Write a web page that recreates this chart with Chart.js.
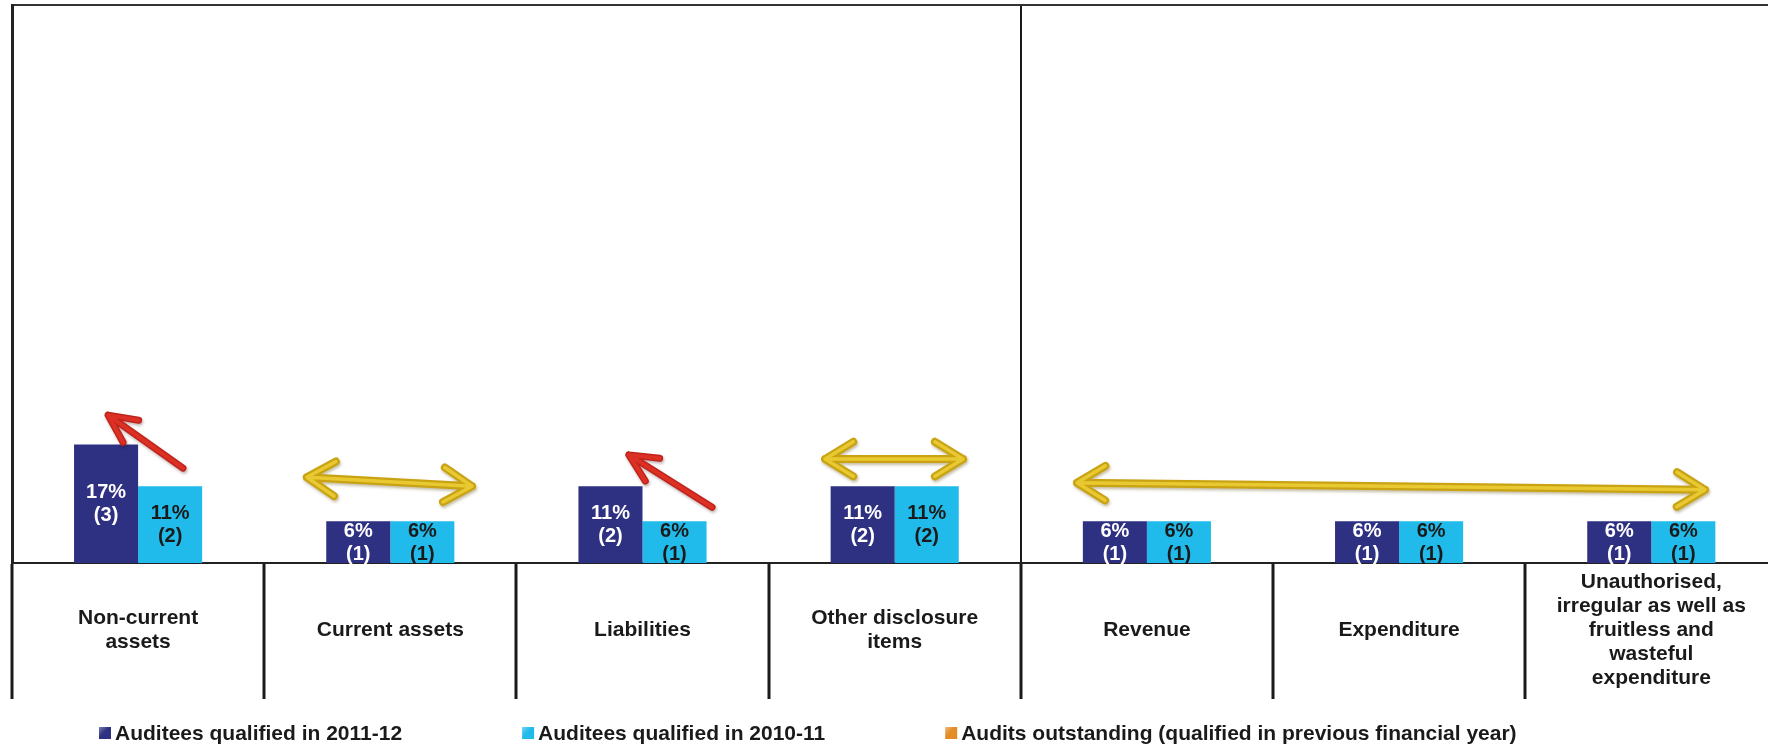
<!DOCTYPE html>
<html>
<head>
<meta charset="utf-8">
<script src="https://cdn.jsdelivr.net/npm/chart.js@4.4.1/dist/chart.umd.min.js"></script>
<style>
  html, body { margin: 0; padding: 0; background: #ffffff; overflow: hidden; }
  canvas { display: block; }
</style>
</head>
<body>
<canvas id="qualifications" width="1780" height="748"></canvas>
<script>
// Qualification areas (multi-line axis labels)
const categories = [
  ["Non-current", "assets"],
  ["Current assets"],
  ["Liabilities"],
  ["Other disclosure", "items"],
  ["Revenue"],
  ["Expenditure"],
  ["Unauthorised,", "irregular as well as", "fruitless and", "wasteful", "expenditure"]
];

const seriesNames = [
  "Auditees qualified in 2011-12",
  "Auditees qualified in 2010-11",
  "Audits outstanding (qualified in previous financial year)"
];

// Percentage of auditees and number of auditees per area
const pct2011_12   = [17, 6, 11, 11, 6, 6, 6];
const count2011_12 = [3, 1, 2, 2, 1, 1, 1];
const pct2010_11   = [11, 6, 6, 11, 6, 6, 6];
const count2010_11 = [2, 1, 1, 2, 1, 1, 1];
const pctOutstanding = [null, null, null, null, null, null, null];

// Areas before the divider are balance sheet items
const balanceSheetItems = 4;
const yMax = 80;

// Movement arrows, in category units (x) and percent (y)
const movementArrows = [
  { kind: "regressed", from: [0.178, 13.6], to: [-0.119, 21.2] },
  { kind: "regressed", from: [2.276, 8.0],  to: [1.946, 15.5] },
  { kind: "unchanged", from: [0.669, 12.3], to: [1.324, 11.0] },
  { kind: "unchanged", from: [2.724, 14.9], to: [3.271, 14.9] },
  { kind: "unchanged", from: [3.723, 11.5], to: [6.213, 10.5] }
];

const FONT = "'Liberation Sans', Arial, Helvetica, sans-serif";
const INK = "#1a1a1a";

// Percentage and count printed in the middle of each bar
const barValueLabels = {
  id: "barValueLabels",
  afterDatasetsDraw(chart) {
    const ctx = chart.ctx;
    ctx.save();
    ctx.font = "bold 20px " + FONT;
    ctx.textAlign = "center";
    ctx.textBaseline = "middle";
    chart.data.datasets.forEach((ds, i) => {
      if (!ds.counts) return;
      const meta = chart.getDatasetMeta(i);
      ctx.fillStyle = ds.labelColor;
      meta.data.forEach((bar, j) => {
        const v = ds.data[j];
        if (v === null || v === undefined) return;
        const p = bar.getProps(["x", "y", "base"], true);
        const cy = (p.y + p.base) / 2;
        ctx.fillText(v + "%", p.x, cy - 11);
        ctx.fillText("(" + ds.counts[j] + ")", p.x, cy + 12);
      });
    });
    ctx.restore();
  }
};

function arrowPath(ctx, x1, y1, x2, y2, both, headLen, headAngle) {
  const a = Math.atan2(y2 - y1, x2 - x1);
  const head = (tx, ty, ang) => {
    ctx.moveTo(tx - headLen * Math.cos(ang - headAngle), ty - headLen * Math.sin(ang - headAngle));
    ctx.lineTo(tx, ty);
    ctx.lineTo(tx - headLen * Math.cos(ang + headAngle), ty - headLen * Math.sin(ang + headAngle));
  };
  ctx.beginPath();
  ctx.moveTo(x1, y1);
  ctx.lineTo(x2, y2);
  head(x2, y2, a);
  if (both) head(x1, y1, a + Math.PI);
}

// Red arrows mark regression, gold double arrows mark no change
const movementArrowsPlugin = {
  id: "movementArrows",
  afterDatasetsDraw(chart) {
    const { ctx, scales } = chart;
    const xs = scales.x, ys = scales.y;
    ctx.save();
    ctx.lineCap = "round";
    ctx.lineJoin = "round";
    movementArrows.forEach(m => {
      const x1 = xs.getPixelForValue(m.from[0]);
      const y1 = ys.getPixelForValue(m.from[1]);
      const x2 = xs.getPixelForValue(m.to[0]);
      const y2 = ys.getPixelForValue(m.to[1]);
      if (m.kind === "regressed") {
        ctx.shadowColor = "rgba(60,0,0,0.30)";
        ctx.shadowBlur = 3;
        ctx.shadowOffsetX = 1;
        ctx.shadowOffsetY = 2;
        arrowPath(ctx, x1, y1, x2, y2, false, 31, 0.45);
        ctx.strokeStyle = "#BE241B";
        ctx.lineWidth = 7;
        ctx.stroke();
        ctx.shadowColor = "transparent";
        ctx.strokeStyle = "#DC3024";
        ctx.lineWidth = 4;
        ctx.stroke();
      } else {
        ctx.shadowColor = "rgba(90,70,0,0.35)";
        ctx.shadowBlur = 3;
        ctx.shadowOffsetX = 1;
        ctx.shadowOffsetY = 2;
        arrowPath(ctx, x1, y1, x2, y2, true, 33, 0.55);
        ctx.strokeStyle = "#C9A312";
        ctx.lineWidth = 8;
        ctx.stroke();
        ctx.shadowColor = "transparent";
        ctx.save();
        ctx.translate(0, -1.5);
        ctx.strokeStyle = "rgba(234,203,52,0.95)";
        ctx.lineWidth = 3.5;
        ctx.stroke();
        ctx.restore();
      }
    });
    ctx.restore();
  }
};

// Legend row under the axis labels
const legendRow = {
  id: "legendRow",
  afterDraw(chart) {
    const ctx = chart.ctx;
    const startX = 99, gap = 120, box = 12, textGap = 4, midY = 734;
    ctx.save();
    ctx.font = "bold 21px " + FONT;
    ctx.textAlign = "left";
    ctx.textBaseline = "middle";
    let x = startX;
    chart.data.datasets.forEach(ds => {
      const g = ctx.createLinearGradient(x, midY - box / 2, x + box, midY + box / 2);
      g.addColorStop(0, "rgba(255,255,255,0.35)");
      g.addColorStop(0.4, "rgba(255,255,255,0)");
      ctx.fillStyle = ds.backgroundColor;
      ctx.fillRect(x, midY - box / 2 - 1, box, box);
      ctx.fillStyle = g;
      ctx.fillRect(x, midY - box / 2 - 1, box, box);
      ctx.fillStyle = INK;
      const tx = x + box + textGap;
      ctx.fillText(ds.label, tx, midY);
      x = tx + ctx.measureText(ds.label).width + gap;
    });
    ctx.restore();
  }
};

new Chart(document.getElementById("qualifications"), {
  type: "bar",
  data: {
    labels: categories,
    datasets: [
      {
        label: seriesNames[0],
        data: pct2011_12,
        counts: count2011_12,
        labelColor: "#ffffff",
        backgroundColor: "#2E3082",
        borderWidth: 0
      },
      {
        label: seriesNames[1],
        data: pct2010_11,
        counts: count2010_11,
        labelColor: INK,
        backgroundColor: "#20BBEA",
        borderWidth: 0
      },
      {
        label: seriesNames[2],
        data: pctOutstanding,
        backgroundColor: "#E38B25",
        borderWidth: 0
      }
    ]
  },
  options: {
    responsive: false,
    maintainAspectRatio: false,
    devicePixelRatio: 1,
    animation: false,
    events: [],
    skipNull: true,
    barPercentage: 1.0,
    categoryPercentage: 0.508,
    layout: { padding: { top: 5, left: 12, right: 2.6, bottom: 44 } },
    scales: {
      x: {
        position: "bottom",
        offset: true,
        afterFit: s => { s.height = 141; },
        border: { display: true, color: "#222222", width: 2 },
        grid: {
          offset: true,
          drawOnChartArea: true,
          drawTicks: true,
          tickLength: 136,
          tickWidth: 3,
          tickColor: INK,
          lineWidth: 2,
          color: c => (c.index === balanceSheetItems ? INK : "rgba(0,0,0,0)")
        },
        ticks: {
          color: INK,
          font: { family: FONT, size: 21, weight: "bold", lineHeight: 1.143 },
          padding: -117,
          crossAlign: "center",
          maxRotation: 0,
          minRotation: 0,
          autoSkip: false
        }
      },
      xTop: {
        type: "category",
        position: "top",
        border: { display: true, color: "#333333", width: 2 },
        grid: { display: false, drawTicks: false },
        ticks: { display: false }
      },
      y: {
        min: 0,
        max: yMax,
        border: { display: true, color: "#222222", width: 3 },
        grid: { display: false, drawTicks: false },
        ticks: { display: false }
      }
    },
    plugins: {
      tooltip: { enabled: false },
      legend: { display: false }
    }
  },
  plugins: [barValueLabels, movementArrowsPlugin, legendRow]
});
</script>
</body>
</html>
